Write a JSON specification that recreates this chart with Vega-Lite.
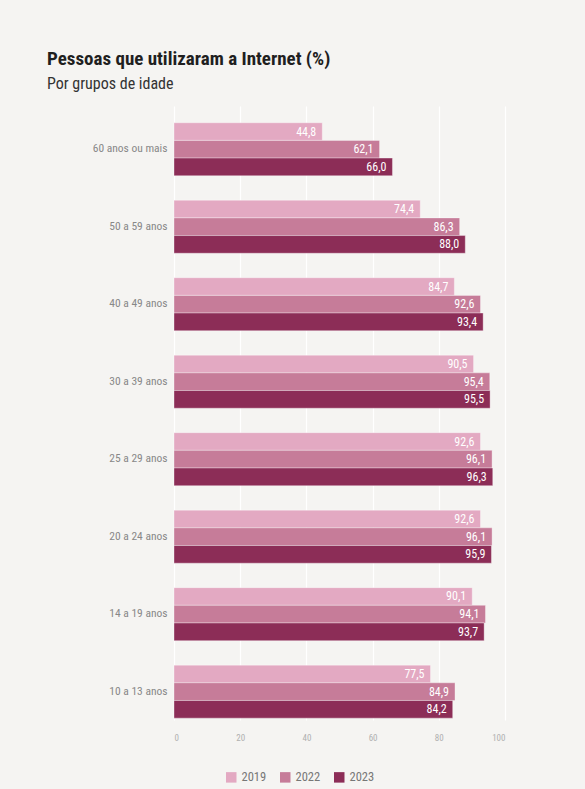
{
  "$schema": "https://vega.github.io/schema/vega-lite/v6.json",
  "width": 331,
  "height": 614,
  "autosize": "none",
  "padding": {"left": 174, "top": 106, "right": 80, "bottom": 69},
  "background": "#f5f4f2",
  "config": {
    "locale": {"number": {"decimal": ",", "thousands": ".", "grouping": [3], "currency": ["R$", ""]}},
    "view": {"stroke": null},
    "font": "Roboto Condensed, Roboto"
  },
  "title": {
    "text": "Pessoas que utilizaram a Internet (%)",
    "subtitle": "Por grupos de idade",
    "anchor": "start",
    "frame": "group",
    "dx": -127,
    "offset": 14,
    "fontSize": 19,
    "fontWeight": "bold",
    "color": "#1f1f1f",
    "subtitleFontSize": 16,
    "subtitleColor": "#333333",
    "subtitlePadding": 7,
    "font": "Roboto Condensed, Roboto",
    "subtitleFont": "Roboto Condensed, Roboto"
  },
  "data": {
    "values": [
      {"grupo": "60 anos ou mais", "ano": "2019", "valor": 44.8},
      {"grupo": "60 anos ou mais", "ano": "2022", "valor": 62.1},
      {"grupo": "60 anos ou mais", "ano": "2023", "valor": 66.0},
      {"grupo": "50 a 59 anos", "ano": "2019", "valor": 74.4},
      {"grupo": "50 a 59 anos", "ano": "2022", "valor": 86.3},
      {"grupo": "50 a 59 anos", "ano": "2023", "valor": 88.0},
      {"grupo": "40 a 49 anos", "ano": "2019", "valor": 84.7},
      {"grupo": "40 a 49 anos", "ano": "2022", "valor": 92.6},
      {"grupo": "40 a 49 anos", "ano": "2023", "valor": 93.4},
      {"grupo": "30 a 39 anos", "ano": "2019", "valor": 90.5},
      {"grupo": "30 a 39 anos", "ano": "2022", "valor": 95.4},
      {"grupo": "30 a 39 anos", "ano": "2023", "valor": 95.5},
      {"grupo": "25 a 29 anos", "ano": "2019", "valor": 92.6},
      {"grupo": "25 a 29 anos", "ano": "2022", "valor": 96.1},
      {"grupo": "25 a 29 anos", "ano": "2023", "valor": 96.3},
      {"grupo": "20 a 24 anos", "ano": "2019", "valor": 92.6},
      {"grupo": "20 a 24 anos", "ano": "2022", "valor": 96.1},
      {"grupo": "20 a 24 anos", "ano": "2023", "valor": 95.9},
      {"grupo": "14 a 19 anos", "ano": "2019", "valor": 90.1},
      {"grupo": "14 a 19 anos", "ano": "2022", "valor": 94.1},
      {"grupo": "14 a 19 anos", "ano": "2023", "valor": 93.7},
      {"grupo": "10 a 13 anos", "ano": "2019", "valor": 77.5},
      {"grupo": "10 a 13 anos", "ano": "2022", "valor": 84.9},
      {"grupo": "10 a 13 anos", "ano": "2023", "valor": 84.2}
    ]
  },
  "encoding": {
    "y": {
      "field": "grupo",
      "type": "nominal",
      "sort": ["60 anos ou mais", "50 a 59 anos", "40 a 49 anos", "30 a 39 anos", "25 a 29 anos", "20 a 24 anos", "14 a 19 anos", "10 a 13 anos"],
      "scale": {"paddingInner": 0.316, "paddingOuter": 0.12, "align": 0.9},
      "axis": {
        "title": null,
        "domain": false,
        "ticks": false,
        "labelFontSize": 11.5,
        "labelColor": "#888888",
        "labelPadding": 7
      }
    },
    "yOffset": {
      "field": "ano",
      "type": "nominal",
      "sort": ["2019", "2022", "2023"],
      "scale": {"paddingInner": 0, "paddingOuter": 0}
    },
    "x": {
      "field": "valor",
      "type": "quantitative",
      "scale": {"domain": [0, 100]},
      "axis": {
        "title": null,
        "values": [0, 20, 40, 60, 80, 100],
        "domain": false,
        "ticks": false,
        "grid": true,
        "gridColor": "#ffffff",
        "gridWidth": 1.2,
        "labelFontSize": 9,
        "labelColor": "#b0b0b0",
        "labelPadding": 13
      }
    }
  },
  "layer": [
    {
      "mark": {"type": "bar", "stroke": "#ffffff", "strokeOpacity": 0.35, "strokeWidth": 1},
      "encoding": {
        "color": {
          "field": "ano",
          "type": "nominal",
          "scale": {"domain": ["2019", "2022", "2023"], "range": ["#e3a9c2", "#c67c99", "#8c2d57"]},
          "legend": {
            "title": null,
            "orient": "none",
            "direction": "horizontal",
            "legendX": 51,
            "legendY": 665,
            "symbolType": "square",
            "symbolSize": 110,
            "symbolStrokeWidth": 0,
            "labelFontSize": 12.5,
            "labelColor": "#777777",
            "columnPadding": 12,
            "labelOffset": 4
          }
        }
      }
    },
    {
      "mark": {"type": "text", "align": "right", "baseline": "middle", "dx": -6, "color": "#ffffff", "fontSize": 12},
      "encoding": {"text": {"field": "valor", "type": "quantitative", "format": ".1f"}}
    }
  ]
}
